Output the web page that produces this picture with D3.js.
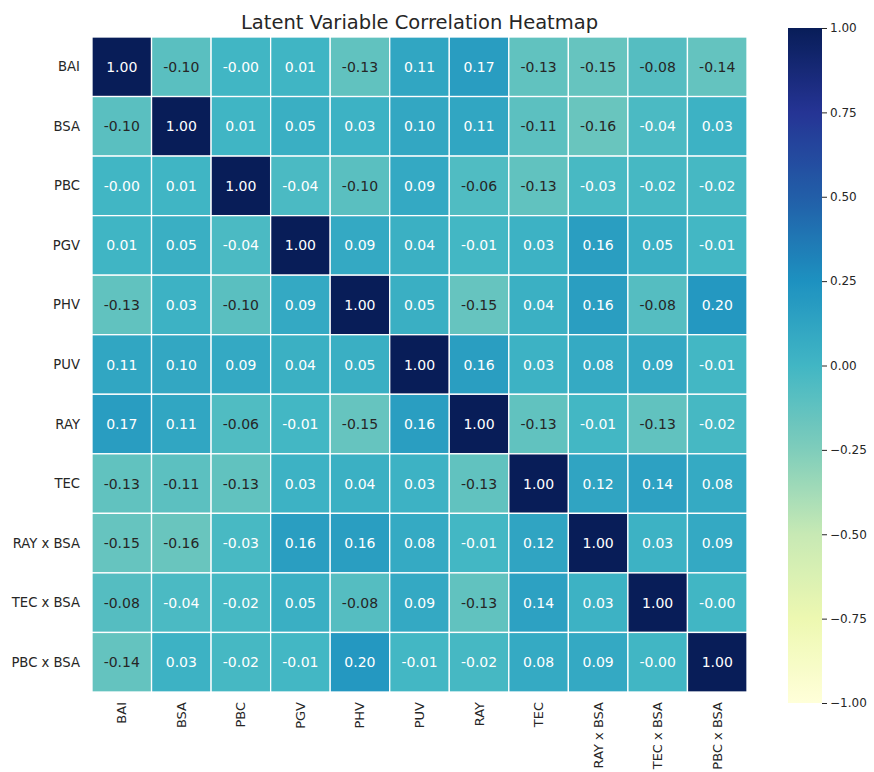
<!DOCTYPE html>
<html>
<head>
<meta charset="utf-8">
<script src="https://cdn.jsdelivr.net/npm/d3@7"></script>
<style>
  html, body { margin: 0; padding: 0; background: #fff; }
  svg text { font-family: "DejaVu Sans", sans-serif; }
</style>
</head>
<body>
<svg id="chart" width="874" height="772"></svg>
<script>
// Variables shown on both axes
const labels = ["BAI", "BSA", "PBC", "PGV", "PHV", "PUV", "RAY", "TEC",
                "RAY x BSA", "TEC x BSA", "PBC x BSA"];

// Correlation rows, one per variable
const rowBAI    = [ 1.00, -0.10, -0.001,  0.01, -0.13,  0.11,  0.17, -0.13, -0.15, -0.08, -0.14];
const rowBSA    = [-0.10,  1.00,  0.01,  0.05,  0.03,  0.10,  0.11, -0.11, -0.16, -0.04,  0.03];
const rowPBC    = [-0.001, 0.01,  1.00, -0.04, -0.10,  0.09, -0.06, -0.13, -0.03, -0.02, -0.02];
const rowPGV    = [ 0.01,  0.05, -0.04,  1.00,  0.09,  0.04, -0.01,  0.03,  0.16,  0.05, -0.01];
const rowPHV    = [-0.13,  0.03, -0.10,  0.09,  1.00,  0.05, -0.15,  0.04,  0.16, -0.08,  0.20];
const rowPUV    = [ 0.11,  0.10,  0.09,  0.04,  0.05,  1.00,  0.16,  0.03,  0.08,  0.09, -0.01];
const rowRAY    = [ 0.17,  0.11, -0.06, -0.01, -0.15,  0.16,  1.00, -0.13, -0.01, -0.13, -0.02];
const rowTEC    = [-0.13, -0.11, -0.13,  0.03,  0.04,  0.03, -0.13,  1.00,  0.12,  0.14,  0.08];
const rowRAYxBSA= [-0.15, -0.16, -0.03,  0.16,  0.16,  0.08, -0.01,  0.12,  1.00,  0.03,  0.09];
const rowTECxBSA= [-0.08, -0.04, -0.02,  0.05, -0.08,  0.09, -0.13,  0.14,  0.03,  1.00, -0.001];
const rowPBCxBSA= [-0.14,  0.03, -0.02, -0.01,  0.20, -0.01, -0.02,  0.08,  0.09, -0.001, 1.00];

const matrix = [rowBAI, rowBSA, rowPBC, rowPGV, rowPHV, rowPUV, rowRAY, rowTEC,
                rowRAYxBSA, rowTECxBSA, rowPBCxBSA];

// Colour bar ticks
const colorbarTicks = [1.00, 0.75, 0.50, 0.25, 0.00, -0.25, -0.50, -0.75, -1.00];

const titleText = "Latent Variable Correlation Heatmap";

// YlGnBu anchor colours, spread linearly over [-1, 1]
const ylgnbu = ["#ffffd9", "#edf8b1", "#c7e9b4", "#7fcdbb", "#41b6c4",
                "#1d91c0", "#225ea8", "#253494", "#081d58"];
const color = d3.scaleLinear()
  .domain(d3.range(ylgnbu.length).map(i => -1 + 2 * i / (ylgnbu.length - 1)))
  .range(ylgnbu)
  .interpolate(d3.interpolateRgb);

// Pick annotation colour from the relative luminance of the cell
function luminance(c) {
  const rgb = d3.rgb(c);
  const lin = v => { v /= 255; return v <= 0.03928 ? v / 12.92 : Math.pow((v + 0.055) / 1.055, 2.4); };
  return 0.2126 * lin(rgb.r) + 0.7152 * lin(rgb.g) + 0.0722 * lin(rgb.b);
}

const svg = d3.select("#chart");

const plot = { left: 92, top: 37, size: 655 };
const x = d3.scaleBand().domain(labels).range([plot.left, plot.left + plot.size]);
const y = d3.scaleBand().domain(labels).range([plot.top, plot.top + plot.size]);

const cells = [];
matrix.forEach((row, i) => row.forEach((v, j) => cells.push({ r: labels[i], c: labels[j], v })));

const g = svg.append("g");
g.selectAll("rect.cell")
  .data(cells)
  .join("rect")
  .attr("class", "cell")
  .attr("x", d => x(d.c))
  .attr("y", d => y(d.r))
  .attr("width", x.bandwidth())
  .attr("height", y.bandwidth())
  .attr("fill", d => color(d.v))
  .attr("stroke", "#ffffff")
  .attr("stroke-width", 1.3);

g.selectAll("text.annot")
  .data(cells)
  .join("text")
  .attr("class", "annot")
  .attr("x", d => x(d.c) + x.bandwidth() / 2)
  .attr("y", d => y(d.r) + y.bandwidth() / 2)
  .attr("text-anchor", "middle")
  .attr("dominant-baseline", "central")
  .attr("font-size", 14)
  .attr("fill", d => luminance(color(d.v)) > 0.408 ? "#262626" : "#ffffff")
  .text(d => d.v.toFixed(2));

// Row labels
svg.append("g")
  .selectAll("text")
  .data(labels)
  .join("text")
  .attr("x", 80)
  .attr("y", d => y(d) + y.bandwidth() / 2)
  .attr("text-anchor", "end")
  .attr("dominant-baseline", "central")
  .attr("font-size", 13.2)
  .attr("fill", "#262626")
  .text(d => d);

// Column labels, rotated
svg.append("g")
  .selectAll("text")
  .data(labels)
  .join("text")
  .attr("transform", d => `translate(${x(d) + x.bandwidth() / 2},${plot.top + plot.size + 10}) rotate(-90)`)
  .attr("text-anchor", "end")
  .attr("dominant-baseline", "central")
  .attr("font-size", 13)
  .attr("fill", "#262626")
  .text(d => d);

// Title
svg.append("text")
  .attr("x", plot.left + plot.size / 2)
  .attr("y", 29)
  .attr("text-anchor", "middle")
  .attr("font-size", 19.5)
  .attr("fill", "#262626")
  .text(titleText);

// Colour bar
const cb = { x: 788, w: 34, top: 28, bottom: 703 };
const cy = d3.scaleLinear().domain([-1, 1]).range([cb.bottom, cb.top]);

const grad = svg.append("defs").append("linearGradient")
  .attr("id", "cbGrad")
  .attr("x1", 0).attr("y1", 1).attr("x2", 0).attr("y2", 0);
grad.selectAll("stop")
  .data(d3.range(0, 1.0001, 1 / 64))
  .join("stop")
  .attr("offset", t => t)
  .attr("stop-color", t => color(-1 + 2 * t));

svg.append("rect")
  .attr("x", cb.x)
  .attr("y", cb.top)
  .attr("width", cb.w)
  .attr("height", cb.bottom - cb.top)
  .attr("fill", "url(#cbGrad)");

const cbAxis = d3.axisRight(cy)
  .tickValues(colorbarTicks)
  .tickFormat(d3.format(".2f"))
  .tickSize(5)
  .tickPadding(3);

const cbg = svg.append("g")
  .attr("transform", `translate(${cb.x + cb.w},0)`)
  .call(cbAxis);
cbg.select(".domain").remove();
cbg.selectAll(".tick line").attr("stroke", "#262626").attr("stroke-width", 1);
cbg.selectAll(".tick text")
  .attr("fill", "#262626")
  .attr("font-size", 12)
  .attr("font-family", "DejaVu Sans, sans-serif");
</script>
</body>
</html>
